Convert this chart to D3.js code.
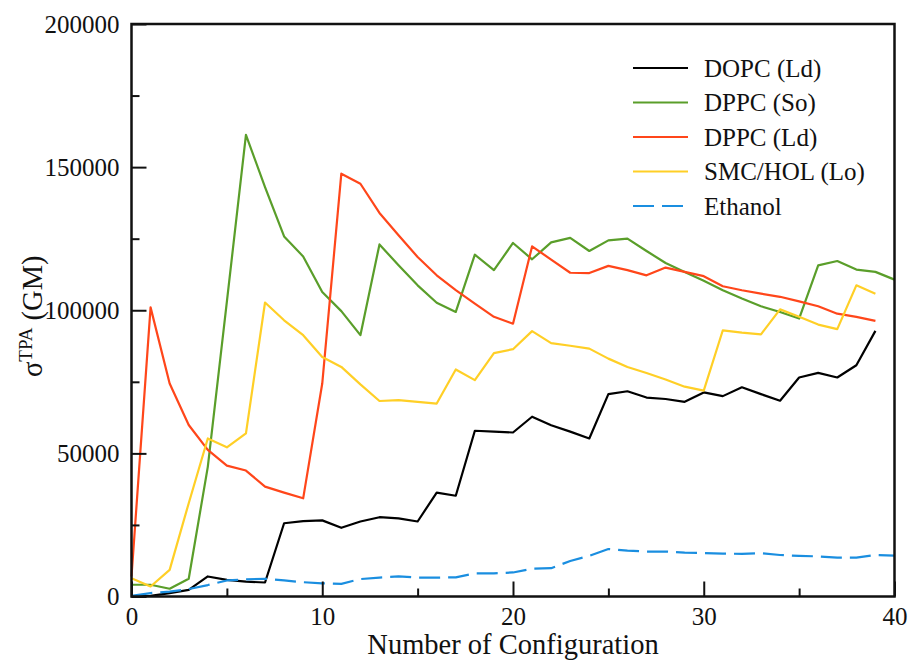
<!DOCTYPE html>
<html>
<head>
<meta charset="utf-8">
<script src="https://cdn.jsdelivr.net/npm/d3@7"></script>
<style>
  body { margin: 0; background: #fff; }
  svg, text { font-family: 'Liberation Serif', 'Times New Roman', serif; fill: #111; }
</style>
</head>
<body>
<div id="chart"></div>
<script>
// configurations 0..40
const dopcLd = [0, 200, 1200, 2300, 7000, 5800, 5200, 4900, 25600, 26300, 26600, 24000, 26200, 27700, 27300, 26200, 36300, 35200, 57900, 57600, 57300, 62800, 59800, 57600, 55200, 70700, 71700, 69500, 69000, 68000, 71300, 70000, 73100, 70700, 68400, 76500, 78100, 76500, 80800, 92800];
const dppcSo = [4100, 4100, 2700, 6200, 45300, 103000, 161300, 143000, 125800, 118800, 106400, 99700, 91300, 123000, 115700, 108700, 102600, 99400, 119400, 114000, 123500, 117800, 123700, 125300, 120700, 124400, 125000, 120700, 116500, 113400, 110300, 107000, 104100, 101400, 99400, 97100, 115700, 117200, 114200, 113400, 110700];
const dppcLd = [7000, 101000, 74400, 59900, 51200, 45700, 44000, 38400, 36300, 34300, 74400, 147700, 144200, 134000, 126200, 118600, 112200, 107000, 102300, 97700, 95300, 122300, 117700, 113100, 113000, 115500, 114000, 112200, 114900, 113400, 111900, 108400, 107000, 105800, 104700, 103100, 101400, 98800, 97700, 96300];
const smcHolLo = [6400, 3500, 9300, 32600, 55200, 52100, 57000, 102700, 96500, 91300, 83700, 80200, 74100, 68300, 68600, 68000, 67400, 79300, 75600, 85000, 86400, 92700, 88500, 87600, 86600, 83100, 80200, 78100, 75800, 73300, 71900, 93000, 92200, 91600, 100300, 97700, 95000, 93400, 108700, 105800];
const ethanol = [200, 1200, 1700, 2600, 4000, 5600, 6000, 6200, 5600, 5000, 4600, 4400, 6100, 6600, 7000, 6600, 6600, 6700, 8100, 8100, 8400, 9700, 9900, 12400, 14200, 16600, 16000, 15700, 15700, 15300, 15200, 15000, 14900, 15100, 14500, 14200, 14000, 13600, 13600, 14500, 14300];

const seriesNames = ['DOPC (Ld)', 'DPPC (So)', 'DPPC (Ld)', 'SMC/HOL (Lo)', 'Ethanol'];
const seriesValues = [dopcLd, dppcSo, dppcLd, smcHolLo, ethanol];
const colors = ['#000000', '#5a9e2a', '#ff461a', '#ffcf26', '#1a8ee0'];

const xTicks = [0, 10, 20, 30, 40];
const yTicks = [0, 50000, 100000, 150000, 200000];

const W = 913, H = 666;
const margin = { top: 24, right: 18.5, bottom: 69.5, left: 131.5 };
const width = W - margin.left - margin.right;
const height = H - margin.top - margin.bottom;
const serif = "'Liberation Serif', 'Times New Roman', serif";

const svg = d3.select('#chart').append('svg')
  .attr('width', W)
  .attr('height', H)
  .style('font-family', serif);

const g = svg.append('g')
  .attr('transform', `translate(${margin.left},${margin.top})`);

const x = d3.scaleLinear().domain([0, 40]).range([0, width]);
const y = d3.scaleLinear().domain([0, 200000]).range([height, 0]);

// lines
const line = d3.line()
  .x((d, i) => x(i))
  .y(d => y(d));

seriesValues.forEach((vals, k) => {
  g.append('path')
    .datum(vals)
    .attr('fill', 'none')
    .attr('stroke', colors[k])
    .attr('stroke-width', 2.2)
    .attr('stroke-linejoin', 'round')
    .attr('stroke-dasharray', k === 4 ? '21,8' : null)
    .attr('d', line);
});

// frame
g.append('rect')
  .attr('width', width)
  .attr('height', height)
  .attr('fill', 'none')
  .attr('stroke', '#111')
  .attr('stroke-width', 2.5);

// x axis (ticks inside)
g.append('g')
  .attr('transform', `translate(0,${height})`)
  .call(d3.axisBottom(x).tickValues(xTicks).tickSize(-15).tickPadding(11).tickFormat(d3.format('d')));
g.append('g')
  .attr('transform', `translate(0,${height})`)
  .call(d3.axisBottom(x).tickValues(d3.range(5, 40, 10)).tickSize(-8).tickFormat(''));

// y axis (ticks inside)
g.append('g')
  .call(d3.axisLeft(y).tickValues(yTicks).tickSize(-15).tickPadding(12).tickFormat(d3.format('d')));
g.append('g')
  .call(d3.axisLeft(y).tickValues(d3.range(25000, 200000, 50000)).tickSize(-8).tickFormat(''));

g.selectAll('.domain').remove();
g.selectAll('.tick line').attr('stroke', '#111').attr('stroke-width', 2);
g.selectAll('.tick text')
  .attr('font-family', serif)
  .style('font-family', serif)
  .style('font-size', '25px')
  .attr('fill', '#111');

// axis titles
svg.append('text')
  .attr('x', margin.left + width / 2)
  .attr('y', 654)
  .attr('text-anchor', 'middle')
  .style('font-size', '28.5px')
  .text('Number of Configuration');

const yt = svg.append('text')
  .attr('transform', `translate(42,${margin.top + height / 2 + 6}) rotate(-90)`)
  .attr('text-anchor', 'middle')
  .style('font-size', '28.5px');
yt.append('tspan').text('σ');
yt.append('tspan').attr('dy', -10).style('font-size', '19px').text('TPA');
yt.append('tspan').attr('dy', 10).text(' (GM)');

// legend
const legend = svg.append('g').attr('transform', 'translate(633,68)');
seriesNames.forEach((name, k) => {
  const row = legend.append('g').attr('transform', `translate(0,${k * 34.5})`);
  row.append('line')
    .attr('x1', 0).attr('x2', 55)
    .attr('stroke', colors[k])
    .attr('stroke-width', 2.2)
    .attr('stroke-dasharray', k === 4 ? '21,8' : null);
  row.append('text')
    .attr('x', 71)
    .attr('y', 8.5)
    .style('font-size', '25px')
    .text(name);
});
</script>
</body>
</html>
